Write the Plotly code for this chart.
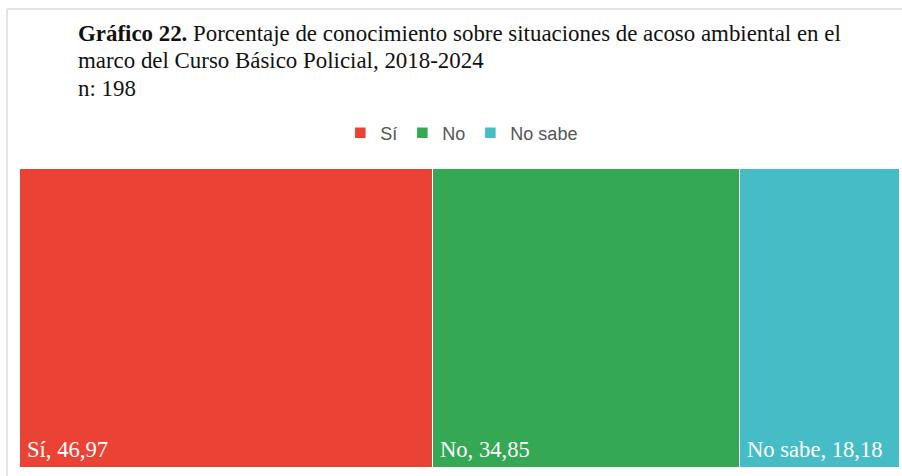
import plotly.graph_objects as go

# Response categories and their percentages (n = 198)
categorias = ["Sí", "No", "No sabe"]
porcentajes = [46.97, 34.85, 18.18]
colores = ["#EA4335", "#34A853", "#46BDC6"]

# Title lines
titulo_lineas = [
    "<b>Gráfico 22.</b> Porcentaje de conocimiento sobre situaciones de acoso ambiental en el",
    "marco del Curso Básico Policial, 2018-2024",
    "n: 198",
]

W, H = 902, 476

def px_x(x):
    return x / W

def px_y(y):
    return 1 - y / H

fig = go.Figure()
for cat, val, col in zip(categorias, porcentajes, colores):
    fig.add_trace(go.Bar(
        x=[val], y=[0], orientation="h", name=cat,
        marker=dict(color=col, line=dict(color="white", width=1.5)),
        width=1, hoverinfo="name+x",
    ))

# Labels at the bottom-left corner of each block, placed from the cumulative values
inicio = 0.0
for cat, val in zip(categorias, porcentajes):
    fig.add_annotation(
        x=inicio, y=-0.5, xref="x", yref="y",
        text=f"{cat}, {val:.2f}".replace(".", ","),
        showarrow=False, xanchor="left", yanchor="bottom",
        xshift=5, yshift=4,
        font=dict(family="Liberation Serif", size=22.6, color="white"),
    )
    inicio += val

# Title block, one annotation per line for tight line spacing
for i, linea in enumerate(titulo_lineas):
    fig.add_annotation(
        x=px_x(76), y=px_y(34 + 27 * i), xref="paper", yref="paper",
        text=linea, showarrow=False, xanchor="left", yanchor="middle",
        font=dict(family="Liberation Serif", size=22.9, color="#111111"),
    )

fig.update_layout(
    width=W, height=H,
    margin=dict(l=0, r=0, t=0, b=0),
    paper_bgcolor="white", plot_bgcolor="white",
    barmode="stack", bargap=0,
    legend=dict(
        orientation="h", x=0.512, xanchor="center", y=px_y(133), yanchor="middle",
        font=dict(family="Liberation Sans", size=18, color="#555555"),
        itemwidth=30, traceorder="normal",
    ),
    xaxis=dict(domain=[px_x(20), px_x(900)], range=[0, 100], visible=False, fixedrange=True),
    yaxis=dict(domain=[px_y(468), px_y(169)], range=[-0.5, 0.5], visible=False, fixedrange=True),
    shapes=[
        dict(type="line", xref="paper", yref="paper", x0=px_x(7), x1=1, y0=px_y(9), y1=px_y(9),
             line=dict(color="#DDDDDD", width=1.5)),
        dict(type="line", xref="paper", yref="paper", x0=px_x(7), x1=px_x(7), y0=px_y(9), y1=0,
             line=dict(color="#DDDDDD", width=1.5)),
    ],
    showlegend=True,
)

fig.write_html("out.html")
